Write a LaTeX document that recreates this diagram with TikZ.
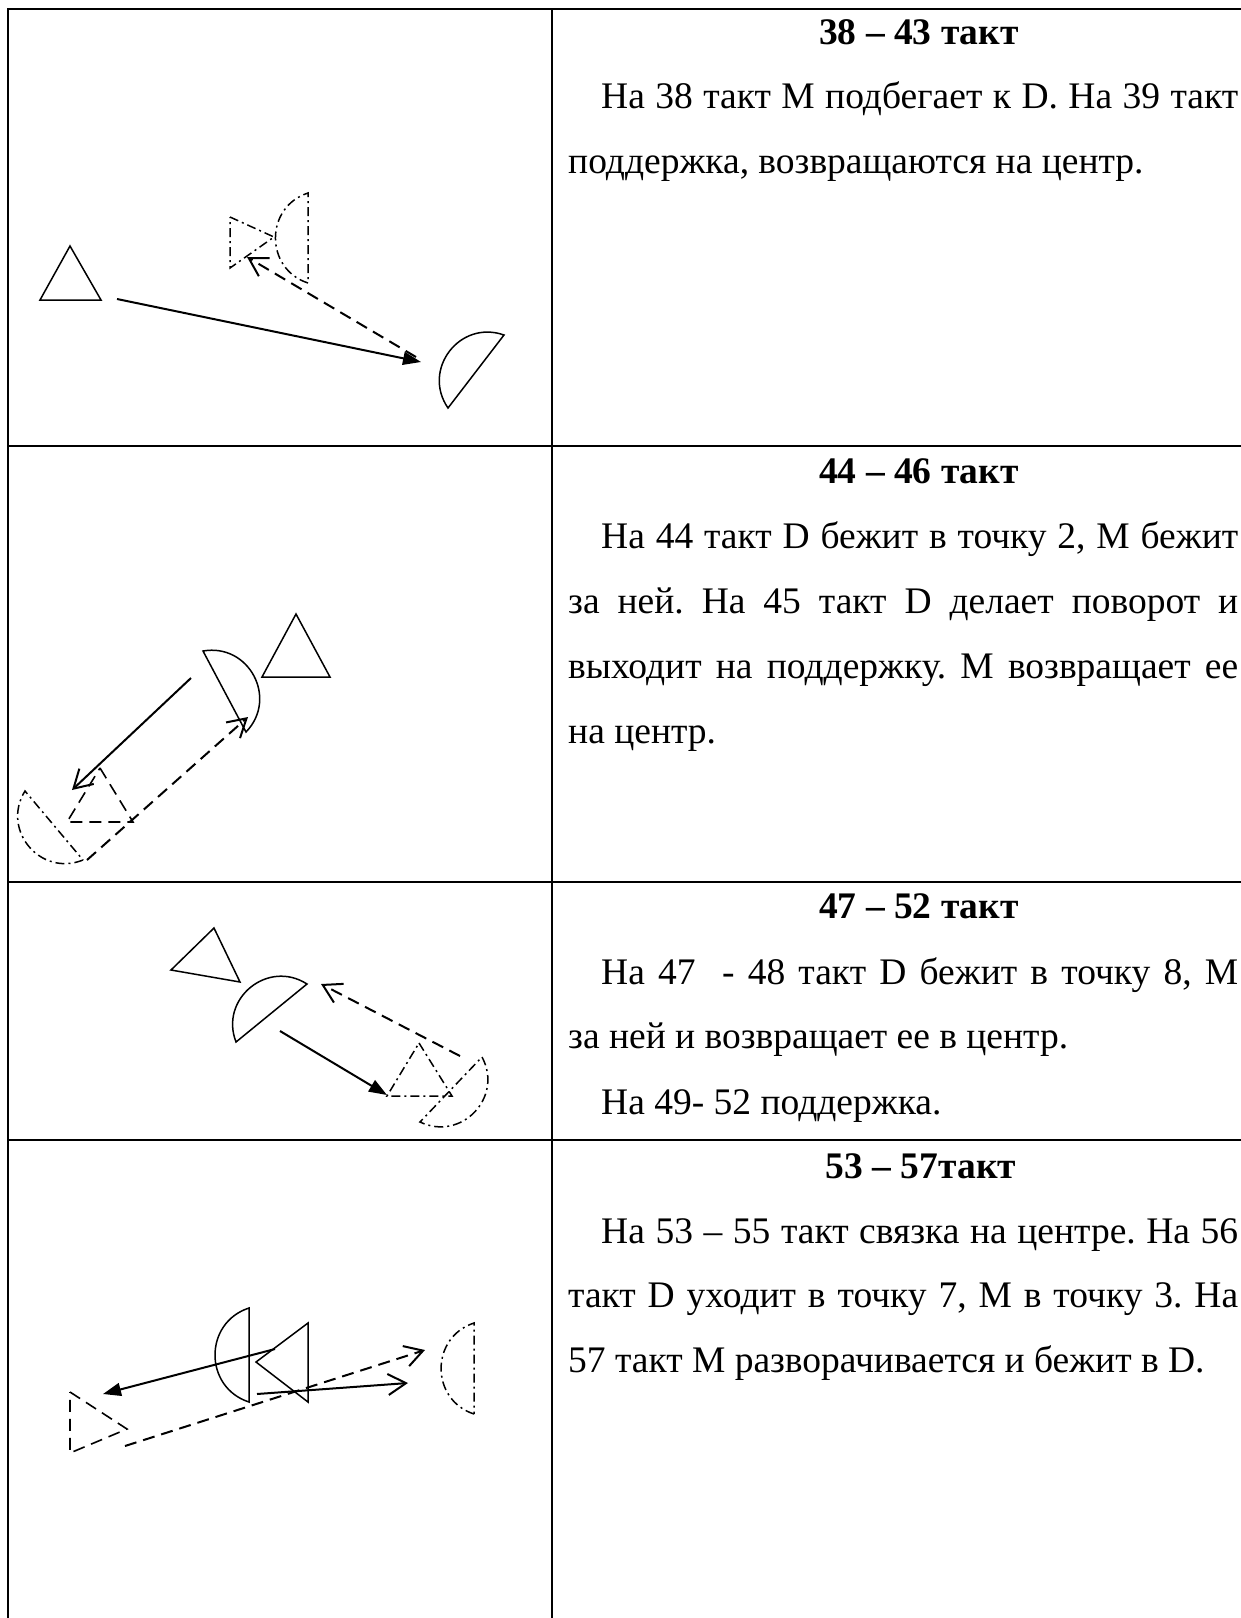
\documentclass[tikz,border=0pt]{standalone}
\usepackage{fontspec}
\setmainfont{Liberation Serif}
\usetikzlibrary{arrows.meta}
\frenchspacing

\begin{document}
\begin{tikzpicture}[x=1pt,y=-1pt,
		frame/.style={line width=2pt},
		head/.style={anchor=base,inner sep=0pt,font=\fontsize{37.5}{45}\selectfont\bfseries},
		body/.style={anchor=base west,inner sep=0pt,font=\fontsize{37.5}{45}\selectfont},
		solidfig/.style={line width=1.5pt},
		dotfig/.style={line width=1.5pt,dash pattern=on 9pt off 4pt on 2pt off 4pt},
		dashfig/.style={line width=1.6pt,dash pattern=on 12pt off 7pt},
		runarr/.style={line width=2pt},
		dasharr/.style={line width=2pt,dash pattern=on 12pt off 7pt},
		tipfill/.style={-{Triangle[length=18pt,width=13pt]}},
		tipopen/.style={-{Straight Barb[length=18pt,width=21pt]}},
		halfd/.style={bend left=72,looseness=1.3}]
		\useasboundingbox (0,0) rectangle (1241,1618);
		
		\draw[frame] (8,1618) -- (8,9) -- (1241,9);
		\draw[frame] (552,9) -- (552,1618);
		\foreach \y in {446,882,1140}
			\draw[frame] (8,\y) -- (1241,\y);
		
		\node[head] (h1) at (919,44) {38 – 43 такт};
		\node[body] (t1a) at (601,108) {\makebox[637pt][s]{На 38 такт М подбегает к D. На 39 такт}};
		\node[body] (t1b) at (568,173) {поддержка, возвращаются на центр.};
		
		\node[head] (h2) at (919,483) {44 – 46 такт};
		\node[body] (t2a) at (601,548) {\makebox[637pt][s]{На 44 такт D бежит в точку 2, М бежит}};
		\node[body] (t2b) at (568,613) {\makebox[670pt][s]{за ней. На 45 такт D делает поворот и}};
		\node[body] (t2c) at (568,678) {\makebox[670pt][s]{выходит на поддержку. М возвращает ее}};
		\node[body] (t2d) at (568,743) {на центр.};
		
		\node[head] (h3) at (919,918) {47 – 52 такт};
		\node[body] (t3a) at (601,984) {\makebox[637pt][s]{На 47\ \ - 48 такт D бежит в точку 8, М}};
		\node[body] (t3b) at (568,1048) {за ней и возвращает ее в центр.};
		\node[body] (t3c) at (601,1114) {На 49- 52 поддержка.};
		
		\node[head] (h4) at (921,1178) {53 – 57такт};
		\node[body] (t4a) at (601,1243) {\makebox[637pt][s]{На 53 – 55 такт связка на центре. На 56}};
		\node[body] (t4b) at (568,1307) {\makebox[670pt][s]{такт D уходит в точку 7, М в точку 3. На}};
		\node[body] (t4c) at (568,1372) {57 такт М разворачивается и бежит в D.};
		
		\draw[solidfig] (70,246) -- (101,300) -- (40,300) -- cycle;
		\draw[solidfig] (448,408) to[halfd] (504,335) -- cycle;
		\draw[dotfig] (230,217) -- (274,237) -- (230,268) -- cycle;
		\draw[dotfig] (308,283) to[halfd] (308,193) -- cycle;
		\coordinate (a1) at (117,299);
		\coordinate (b1) at (421,362);
		\coordinate (c1) at (416,357);
		\coordinate (d1) at (247,257);
		\draw[runarr,tipfill] (a1) -- (b1);
		\draw[dasharr,tipopen] (c1) -- (d1);
		
		\draw[solidfig] (296,614) -- (330,677) -- (262,677) -- cycle;
		\draw[solidfig] (203,651) to[halfd] (246,732) -- cycle;
		\draw[dashfig] (100,768) -- (133,822) -- (67,822) -- cycle;
		\draw[dotfig] (83,860) to[halfd] (25,791) -- cycle;
		\coordinate (a2) at (191,678);
		\coordinate (b2) at (72,790);
		\coordinate (c2) at (87,860);
		\coordinate (d2) at (248,717);
		\draw[runarr,tipopen] (a2) -- (b2);
		\draw[dasharr,tipopen] (c2) -- (d2);
		
		\draw[solidfig] (171,970) -- (214,928) -- (240,982) -- cycle;
		\draw[solidfig] (236,1042) to[halfd] (307,984) -- cycle;
		\draw[dotfig] (419,1043) -- (452,1096) -- (387,1096) -- cycle;
		\draw[dotfig] (482,1057) to[halfd] (420,1122) -- cycle;
		\coordinate (a3) at (280,1031);
		\coordinate (b3) at (387,1095);
		\coordinate (c3) at (460,1056);
		\coordinate (d3) at (321,984);
		\draw[runarr,tipfill] (a3) -- (b3);
		\draw[dasharr,tipopen] (c3) -- (d3);
		
		\draw[solidfig] (249,1402) to[halfd] (249,1308) -- cycle;
		\draw[solidfig] (256,1362) -- (308,1323) -- (308,1402) -- cycle;
		\draw[dashfig] (70,1392) -- (127,1429) -- (70,1453) -- cycle;
		\draw[dotfig] (474,1414) to[halfd] (474,1323) -- cycle;
		\coordinate (a4) at (275,1349);
		\coordinate (b4) at (103,1394);
		\coordinate (c4) at (257,1394);
		\coordinate (d4) at (408,1383);
		\coordinate (e4) at (125,1446);
		\coordinate (f4) at (425,1350);
		\draw[runarr,tipfill] (a4) -- (b4);
		\draw[runarr,tipopen] (c4) -- (d4);
		\draw[dasharr,tipopen] (e4) -- (f4);
	\end{tikzpicture}
\end{document}
